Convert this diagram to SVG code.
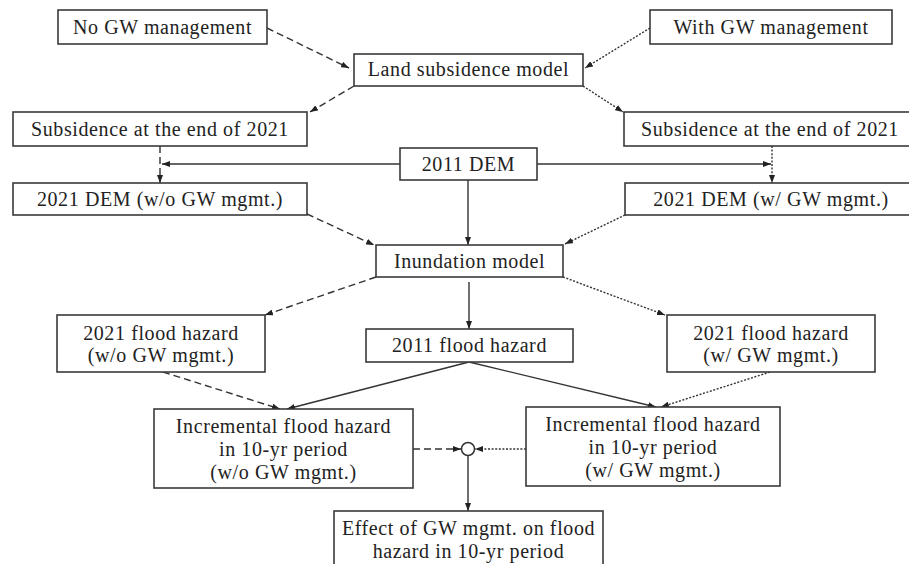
<svg xmlns="http://www.w3.org/2000/svg" width="909" height="564" viewBox="0 0 909 564">
<style>
.box{fill:#fff;stroke:#3a3a3a;stroke-width:1.6}
text{font-family:"Liberation Serif","Times New Roman",serif;font-size:20px;fill:#222;text-anchor:middle;letter-spacing:0.6px}
.c{fill:none;stroke:#333;stroke-width:1.4}
.dash{stroke-dasharray:7 4}
.dot{stroke-dasharray:2 1.6}
</style>
<defs>
<marker id="ah" viewBox="0 0 8 6" refX="8" refY="3" markerWidth="8" markerHeight="6" markerUnits="userSpaceOnUse" orient="auto">
<path d="M0,0 L8,3 L0,6 Z" fill="#222"/>
</marker>
</defs>
<rect width="909" height="564" fill="#fff"/>
<g id="connectors">
<path class="c dash" d="M267,28 L349,68" marker-end="url(#ah)"/>
<path class="c dash" d="M354,86 L310,112" marker-end="url(#ah)"/>
<path class="c dot" d="M650,28 L585,68" marker-end="url(#ah)"/>
<path class="c dot" d="M583,86 L623,112" marker-end="url(#ah)"/>
<path class="c dash" d="M160,146 L160,183" marker-end="url(#ah)"/>
<path class="c" d="M400,164 L162,164" marker-end="url(#ah)"/>
<path class="c dot" d="M772,146 L772,183" marker-end="url(#ah)"/>
<path class="c" d="M537,164 L771,164" marker-end="url(#ah)"/>
<path class="c" d="M468,180 L468,245" marker-end="url(#ah)"/>
<path class="c dash" d="M307,214 L374,245" marker-end="url(#ah)"/>
<path class="c dot" d="M625,215 L565,244" marker-end="url(#ah)"/>
<path class="c dash" d="M376,277 L265,315" marker-end="url(#ah)"/>
<path class="c dot" d="M563,277 L665,315" marker-end="url(#ah)"/>
<path class="c" d="M469,282 L469,329" marker-end="url(#ah)"/>
<path class="c dash" d="M163,372 L280,409" marker-end="url(#ah)"/>
<path class="c" d="M469,362 L287,409" marker-end="url(#ah)"/>
<path class="c" d="M469,362 L656,407" marker-end="url(#ah)"/>
<path class="c dot" d="M770,372 L661,407" marker-end="url(#ah)"/>
<path class="c dash" d="M413,449 L461,449" marker-end="url(#ah)"/>
<path class="c dot" d="M526,449 L475,449" marker-end="url(#ah)"/>
<path class="c" d="M468,455 L468,511" marker-end="url(#ah)"/>
</g>
<g id="n1"><rect class="box" x="58" y="10" width="209" height="34"/><text x="162.5" y="34">No GW management</text></g>
<g id="n2"><rect class="box" x="650" y="10" width="242" height="34"/><text x="771" y="34">With GW management</text></g>
<g id="n3"><rect class="box" x="354" y="54" width="229" height="32"/><text x="468.5" y="76">Land subsidence model</text></g>
<g id="n4"><rect class="box" x="13" y="112" width="294" height="34"/><text x="160" y="136">Subsidence at the end of 2021</text></g>
<g id="n5"><rect class="box" x="624" y="112" width="292" height="34"/><text x="770" y="136">Subsidence at the end of 2021</text></g>
<g id="n6"><rect class="box" x="400" y="148" width="137" height="32"/><text x="468.5" y="171">2011 DEM</text></g>
<g id="n7"><rect class="box" x="13" y="183" width="294" height="32"/><text x="160" y="206">2021 DEM (w/o GW mgmt.)</text></g>
<g id="n8"><rect class="box" x="625" y="183" width="291" height="32"/><text x="771" y="206">2021 DEM (w/ GW mgmt.)</text></g>
<g id="n9"><rect class="box" x="376" y="245" width="187" height="32"/><text x="469.5" y="268">Inundation model</text></g>
<g id="n10"><rect class="box" x="57" y="315" width="208" height="57"/><text x="161" y="340">2021 flood hazard</text><text x="161" y="362">(w/o GW mgmt.)</text></g>
<g id="n11"><rect class="box" x="366" y="329" width="207" height="33"/><text x="469.5" y="352">2011 flood hazard</text></g>
<g id="n12"><rect class="box" x="667" y="315" width="208" height="57"/><text x="771" y="340">2021 flood hazard</text><text x="771" y="362">(w/ GW mgmt.)</text></g>
<g id="n13"><rect class="box" x="154" y="409" width="259" height="79"/><text x="283.5" y="433">Incremental flood hazard</text><text x="283.5" y="456">in 10-yr period</text><text x="283.5" y="479">(w/o GW mgmt.)</text></g>
<g id="n14"><rect class="box" x="526" y="407" width="254" height="79"/><text x="653" y="431">Incremental flood hazard</text><text x="653" y="454">in 10-yr period</text><text x="653" y="477">(w/ GW mgmt.)</text></g>
<g id="n15"><circle cx="468" cy="449" r="6.5" fill="#fff" stroke="#333" stroke-width="1.5"/></g>
<g id="n16"><rect class="box" x="334" y="511" width="269" height="62"/><text x="468.5" y="535">Effect of GW mgmt. on flood</text><text x="468.5" y="558">hazard in 10-yr period</text></g>
</svg>
